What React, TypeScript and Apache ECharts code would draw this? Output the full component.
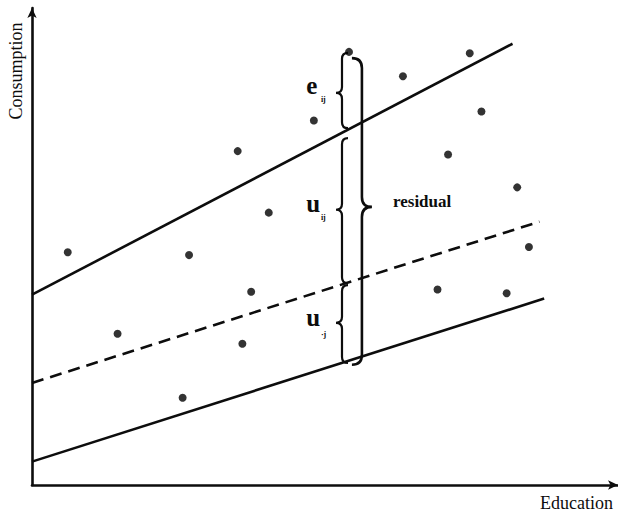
import React, { useEffect, useRef } from "react";
import * as echarts from "echarts";

// Observations (arbitrary units, x = education, y = consumption)
const pointsX = [6.1, 14.6, 25.7, 26.8, 35.1, 35.9, 37.4, 40.4, 48.1, 54.1, 63.3, 69.2, 71.0, 74.7, 76.7, 81.0, 82.8, 84.8];
const pointsY = [48.8, 31.7, 18.3, 48.2, 70.0, 29.6, 40.5, 57.1, 76.4, 90.8, 85.7, 41.0, 69.3, 90.5, 78.3, 40.2, 62.4, 49.9];

// Regression lines: [x, y] endpoints
const upperLine = [[0, 39.9], [82.0, 92.5]];
const meanLine = [[0, 21.4], [86.6, 55.2]];
const lowerLine = [[0, 4.9], [87.4, 39.1]];

// Braces: x of spine, y top, y bottom, y tip, direction (+1 right, -1 left)
const braceX = [56.3, 52.9, 52.9, 52.9];
const braceTop = [89.5, 90.6, 72.7, 41.9];
const braceBottom = [25.2, 74.8, 42.3, 25.6];
const braceTip = [58.3, 82.2, 57.7, 34.0];
const braceDir = [1, -1, -1, -1];

// Brace labels
const labelMain = ["e", "u", "u"];
const labelSub = ["ij", "ij", "\u00b7j"];
const labelX = [46.8, 46.8, 46.8];
const labelY = [83.7, 59.0, 35.1];
const subX = [49.3, 49.3, 49.3];
const subY = [80.9, 56.1, 31.6];
const residualLabel = "residual";
const residualPos = [61.6, 59.5];

const xTitle = "Education";
const yTitle = "Consumption";

const INK = "#0d0d0d";
const SERIF = "'Liberation Serif', 'Times New Roman', serif";

export default function App() {
  const ref = useRef<HTMLDivElement>(null);

  useEffect(() => {
    document.body.style.margin = "0";
    const chart = echarts.init(ref.current!, null, { renderer: "svg" });

    const braceData = braceX.map((x, i) => [x, braceTop[i], braceBottom[i], braceTip[i], braceDir[i]]);
    const labelData = labelMain.map((_, i) => [labelX[i], labelY[i], subX[i], subY[i], i]);

    const axisCommon = {
      type: "value" as const,
      min: 0,
      max: 100,
      splitLine: { show: false },
      axisTick: { show: false },
      axisLabel: { show: false },
      axisLine: {
        show: true,
        symbol: ["none", "arrow"],
        symbolSize: [7, 10],
        lineStyle: { color: INK, width: 2.6 },
      },
    };

    chart.setOption({
      animation: false,
      backgroundColor: "#ffffff",
      grid: { left: 32, top: 8, right: 0, bottom: 27 },
      xAxis: { ...axisCommon },
      yAxis: { ...axisCommon },
      graphic: [
        {
          type: "text",
          x: 16,
          y: 71,
          rotation: Math.PI / 2,
          style: {
            text: yTitle,
            font: `18px ${SERIF}`,
            fill: INK,
            align: "center",
            verticalAlign: "middle",
          },
        },
        {
          type: "text",
          x: 540,
          y: 503,
          style: {
            text: xTitle,
            font: `18px ${SERIF}`,
            fill: INK,
            align: "left",
            verticalAlign: "middle",
          },
        },
      ],
      series: [
        {
          type: "line",
          data: upperLine,
          symbol: "none",
          lineStyle: { color: INK, width: 2.6 },
          silent: true,
        },
        {
          type: "line",
          data: meanLine,
          symbol: "none",
          lineStyle: { color: INK, width: 2.6, type: [12, 7] },
          silent: true,
        },
        {
          type: "line",
          data: lowerLine,
          symbol: "none",
          lineStyle: { color: INK, width: 2.6 },
          silent: true,
        },
        {
          type: "scatter",
          data: pointsX.map((x, i) => [x, pointsY[i]]),
          symbol: "circle",
          symbolSize: 8,
          itemStyle: { color: "#000000" },
          silent: true,
        },
        {
          type: "custom",
          data: braceData,
          silent: true,
          clip: false,
          renderItem: (params: any, api: any) => {
            const x = api.value(0);
            const top = api.coord([x, api.value(1)]);
            const bot = api.coord([x, api.value(2)]);
            const tip = api.coord([x, api.value(3)]);
            const d = api.value(4);
            const px = top[0];
            const a = d > 0 ? 10 : 6;
            const yT = top[1];
            const yB = bot[1];
            const yM = tip[1];
            const path =
              `M ${px - d * a} ${yT} ` +
              `Q ${px} ${yT} ${px} ${yT + a} ` +
              `L ${px} ${yM - a} ` +
              `Q ${px} ${yM} ${px + d * a} ${yM} ` +
              `Q ${px} ${yM} ${px} ${yM + a} ` +
              `L ${px} ${yB - a} ` +
              `Q ${px} ${yB} ${px - d * a} ${yB}`;
            return {
              type: "path",
              shape: { pathData: path },
              style: { fill: "none", stroke: INK, lineWidth: d > 0 ? 2.6 : 2.2 },
            };
          },
        },
        {
          type: "custom",
          data: labelData,
          silent: true,
          clip: false,
          renderItem: (params: any, api: any) => {
            const idx = api.value(4);
            const p = api.coord([api.value(0), api.value(1)]);
            const s = api.coord([api.value(2), api.value(3)]);
            return {
              type: "group",
              children: [
                {
                  type: "text",
                  x: p[0],
                  y: p[1],
                  style: {
                    text: labelMain[idx],
                    font: `bold 25px ${SERIF}`,
                    fill: INK,
                    align: "left",
                    verticalAlign: "middle",
                  },
                },
                {
                  type: "text",
                  x: s[0],
                  y: s[1],
                  style: {
                    text: labelSub[idx],
                    font: `bold 8px ${SERIF}`,
                    fill: INK,
                    align: "left",
                    verticalAlign: "middle",
                  },
                },
              ],
            };
          },
        },
        {
          type: "custom",
          data: [residualPos],
          silent: true,
          clip: false,
          renderItem: (params: any, api: any) => {
            const p = api.coord([api.value(0), api.value(1)]);
            return {
              type: "text",
              x: p[0],
              y: p[1],
              style: {
                text: residualLabel,
                font: `bold 17px ${SERIF}`,
                fill: INK,
                align: "left",
                verticalAlign: "middle",
              },
            };
          },
        },
      ],
    });

    return () => chart.dispose();
  }, []);

  return <div ref={ref} style={{ width: 618, height: 512 }} />;
}
